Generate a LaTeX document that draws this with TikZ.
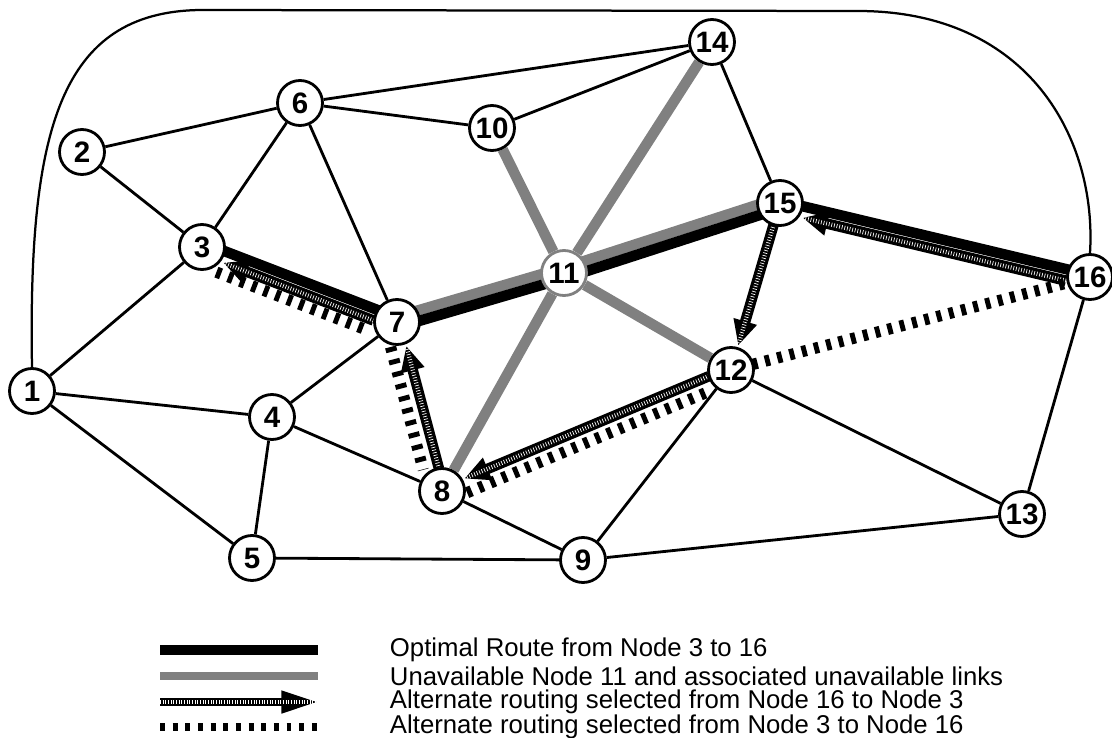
\documentclass[tikz,border=0pt]{standalone}
\usepackage{fontspec}
\setmainfont{Liberation Sans}
\usetikzlibrary{calc,arrows.meta}
\pgfdeclarelayer{background}
\pgfsetlayers{background,main}
\tikzset{
  stn/.style={circle,draw,line width=2pt,fill=white,minimum size=32pt,inner sep=0pt,
    font=\bfseries\fontsize{21}{21}\selectfont},
  link/.style={line width=2pt},
  optroute/.style={line width=7.5pt},
  deadlink/.style={line width=7.5pt,black!50},
  backroute/.style={line width=7.5pt,-{Triangle[width=16pt,length=18pt]},
    postaction={draw=white,line width=3pt,dash pattern=on .5pt off 1.4pt,arrows=-}},
  fwdroute/.style={line width=8pt,dash pattern=on 3.5pt off 5.5pt},
  atnodes/.style={shorten >=18pt,shorten <=16pt},
  legtext/.style={anchor=west,font=\fontsize{18.3}{20}\selectfont}
}
% band beside the line between two stations
\newcommand{\sidelink}[4]{\draw[#1] ($(#2)!#4!90:(#3)$) -- ($(#3)!#4!-90:(#2)$);}
\begin{document}
\begin{tikzpicture}[x=0.025cm,y=-0.025cm]
\useasboundingbox (0,0) rectangle (1112,737);

   \node[stn] at (32,391)   (n1)  {1};
   \node[stn] at (82,152)   (n2)  {2};
   \node[stn] at (202,247)  (n3)  {3};
   \node[stn] at (272,417)  (n4)  {4};
   \node[stn] at (252,558)  (n5)  {5};
   \node[stn] at (300,103)  (n6)  {6};
   \node[stn] at (397,322)  (n7)  {7};
   \node[stn] at (442,491)  (n8)  {8};
   \node[stn] at (583,560)  (n9)  {9};
   \node[stn] at (492,128)  (n10) {10};
   \node[stn,draw=black!50] at (564,273) (n11) {11};
   \node[stn] at (731,370)  (n12) {12};
   \node[stn] at (1022,514) (n13) {13};
   \node[stn] at (712,42)   (n14) {14};
   \node[stn] at (780,203)  (n15) {15};
   \node[stn] at (1090,277) (n16) {16};

    % plain links
    \draw[link] (n1) -- (n3);
    \draw[link] (n1) -- (n4);
    \draw[link] (n1) -- (n5);
    \draw[link] (n2) -- (n3);
    \draw[link] (n2) -- (n6);
    \draw[link] (n3) -- (n6);
    \draw[link] (n6) -- (n7);
    \draw[link] (n6) -- (n10);
    \draw[link] (n6) -- (n14);
    \draw[link] (n10) -- (n14);
    \draw[link] (n14) -- (n15);
    \draw[link] (n4) -- (n7);
    \draw[link] (n4) -- (n5);
    \draw[link] (n4) -- (n8);
    \draw[link] (n5) -- (n9);
    \draw[link] (n8) -- (n9);
    \draw[link] (n9) -- (n12);
    \draw[link] (n9) -- (n13);
    \draw[link] (n12) -- (n13);
    \draw[link] (n13) -- (n16);
    \draw[line width=1.6pt] (n1.north) .. controls (28,130) and (60,12) .. (200,10)
       -- (860,11) .. controls (1030,12) and (1097,140) .. (n16.north);

\begin{pgfonlayer}{background}
    % links of node 11
    \draw[deadlink] (n11) -- (n10);
    \draw[deadlink] (n11) -- (n14);
    \draw[deadlink] (n11) -- (n8);
    \draw[deadlink] (n11) -- (n12);
    \sidelink{deadlink}{n7}{n11}{3.7pt}
    \sidelink{deadlink}{n11}{n15}{3.7pt}
    % optimal route 3 to 16
    \sidelink{optroute}{n3}{n7}{3pt}
    \sidelink{optroute}{n7}{n11}{-3.7pt}
    \sidelink{optroute}{n11}{n15}{-3.7pt}
    \sidelink{optroute}{n15}{n16}{1.5pt}
    % alternate 16 to 3
    \sidelink{backroute,atnodes}{n16}{n15}{6.5pt}
    \sidelink{backroute,atnodes}{n15}{n12}{0pt}
    \sidelink{backroute,atnodes}{n12}{n8}{-2pt}
    \sidelink{backroute,atnodes}{n8}{n7}{-2pt}
    \sidelink{backroute,atnodes}{n7}{n3}{5pt}
    % alternate 3 to 16
    \sidelink{fwdroute,atnodes}{n3}{n7}{-13pt}
    \sidelink{fwdroute,atnodes}{n7}{n8}{-9pt}
    \sidelink{fwdroute,atnodes}{n8}{n12}{-8pt}
    \sidelink{fwdroute,atnodes}{n12}{n16}{0pt}
\end{pgfonlayer}

    % legend
    \coordinate (k1a) at (160,650); \coordinate (k1b) at (318,650);
    \coordinate (k2a) at (160,676); \coordinate (k2b) at (318,676);
    \coordinate (k3a) at (160,702); \coordinate (k3b) at (318,702);
    \coordinate (k4a) at (160,727); \coordinate (k4b) at (318,727);
    \draw[optroute,line width=6.5pt] (k1a) -- (k1b);
    \draw[deadlink,line width=5pt] (k2a) -- (k2b);
    \draw[backroute,line width=5pt,-{Triangle[width=15pt,length=26pt]}] (k3a) -- (k3b);
    \draw[fwdroute,line width=6pt] (k4a) -- (k4b);
    \node[legtext] at (385,650) (t1) {Optimal Route from Node 3 to 16};
    \node[legtext] at (385,676) (t2) {Unavailable Node 11 and associated unavailable links};
    \node[legtext] at (385,702) (t3) {Alternate routing selected from Node 16 to Node 3};
    \node[legtext] at (385,727) (t4) {Alternate routing selected from Node 3 to Node 16};

\end{tikzpicture}
\end{document}
